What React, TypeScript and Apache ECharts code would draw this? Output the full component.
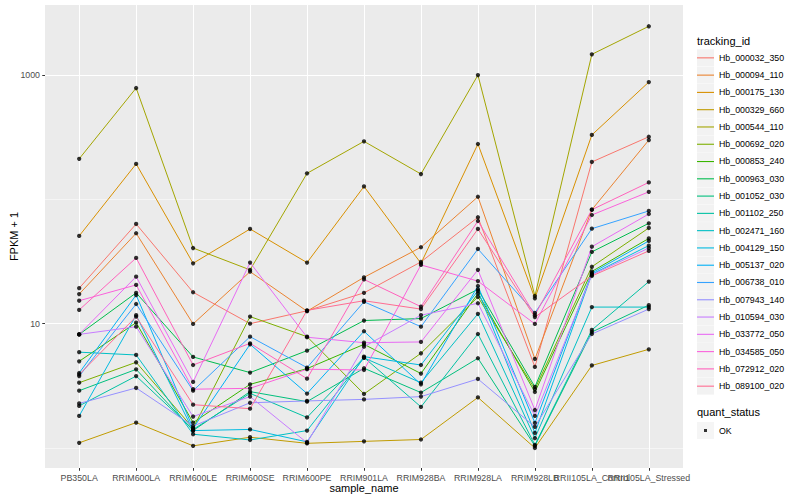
import React, { useEffect, useRef } from 'react';
import * as echarts from 'echarts';

const categories = ['PB350LA', 'RRIM600LA', 'RRIM600LE', 'RRIM600SE', 'RRIM600PE', 'RRIM901LA', 'RRIM928BA', 'RRIM928LA', 'RRIM928LB', 'RRII105LA_Control', 'RRII105LA_Stressed'];

const trackingIds = ['Hb_000032_350', 'Hb_000094_110', 'Hb_000175_130', 'Hb_000329_660', 'Hb_000544_110', 'Hb_000692_020', 'Hb_000853_240', 'Hb_000963_030', 'Hb_001052_030', 'Hb_001102_250', 'Hb_002471_160', 'Hb_004129_150', 'Hb_005137_020', 'Hb_006738_010', 'Hb_007943_140', 'Hb_010594_030', 'Hb_033772_050', 'Hb_034585_050', 'Hb_072912_020', 'Hb_089100_020'];

const colors = ['#F8766D', '#EA8331', '#D89000', '#C09B00', '#A3A500', '#7CAE00', '#39B600', '#00BB4E', '#00BF7D', '#00C1A3', '#00BFC4', '#00BAE0', '#00B0F6', '#35A2FF', '#9590FF', '#C77CFF', '#E76BF3', '#FA62DB', '#FF62BC', '#FF6C91'];

const yTickValues = [10, 1000];
const yMinorValues = [1, 100];
const quantStatus = ['OK'];

// FPKM + 1, one value per sample (order of categories)
const hb000032_350 = [19.3, 63.4, 17.9, 10.0, 12.7, 17.7, 31.4, 71.8, 4.49, 200, 319];
const hb000094_110 = [17.3, 53.4, 9.95, 26.2, 12.6, 23.6, 41.2, 105, 5.2, 82.6, 300];
const hb000175_130 = [50.8, 193, 30.6, 57.8, 31.0, 127, 30.6, 279, 16.0, 330, 879];
const hb000329_660 = [1.10, 1.60, 1.04, 1.22, 1.09, 1.13, 1.17, 2.55, 1.0, 4.61, 6.22];
const hb000544_110 = [212, 787, 40.6, 27.1, 162, 293, 160, 1000, 16.7, 1469, 2470];
const hb000692_020 = [3.35, 4.89, 1.44, 11.4, 7.86, 2.72, 5.78, 16.4, 2.98, 28.7, 58.9];
const hb000853_240 = [4.98, 10.2, 1.60, 3.25, 4.35, 6.82, 3.97, 17.5, 2.82, 26.3, 48.5];
const hb000963_030 = [8.2, 17.7, 5.4, 4.04, 6.07, 10.6, 11.0, 18.9, 3.10, 37.8, 64.2];
const hb001052_030 = [2.89, 4.29, 1.38, 2.84, 2.36, 4.38, 2.79, 5.27, 1.04, 8.57, 14.1];
const hb001102_250 = [2.18, 3.79, 1.41, 2.75, 1.76, 5.35, 2.14, 8.26, 1.06, 8.9, 21.8];
const hb002471_160 = [5.9, 5.6, 1.29, 1.16, 1.38, 5.3, 3.35, 12.0, 1.20, 13.6, 13.6];
const hb004129_150 = [1.81, 11.7, 1.38, 1.41, 1.12, 5.43, 4.65, 18.4, 1.32, 25.0, 42.5];
const hb005137_020 = [4.01, 17.0, 1.44, 6.82, 2.74, 8.69, 3.25, 20.1, 1.59, 25.6, 46.3];
const hb006738_010 = [3.79, 14.4, 2.89, 7.86, 4.43, 15.0, 9.46, 39.9, 12.2, 58.1, 80.7];
const hb007943_140 = [2.28, 3.04, 1.50, 2.31, 2.39, 2.46, 2.59, 3.59, 1.48, 8.26, 13.1];
const hb010594_030 = [8.2, 9.46, 1.79, 2.59, 1.10, 6.53, 11.7, 14.6, 1.81, 24.7, 40.6];
const hb033772_050 = [8.2, 23.9, 3.4, 31.0, 7.78, 7.03, 7.13, 27.1, 2.02, 41.6, 76.3];
const hb034585_050 = [15.3, 20.5, 2.97, 3.02, 4.30, 4.24, 29.7, 22.0, 9.95, 74.9, 115];
const hb072912_020 = [12.9, 33.8, 4.65, 6.95, 3.61, 22.7, 13.7, 67.0, 11.7, 82.6, 137];
const hb089100_020 = [3.9, 11.4, 2.23, 2.07, 12.8, 15.3, 13.1, 57.8, 11.3, 24.2, 38.5];

const seriesValues = [hb000032_350, hb000094_110, hb000175_130, hb000329_660, hb000544_110, hb000692_020, hb000853_240, hb000963_030, hb001052_030, hb001102_250, hb002471_160, hb004129_150, hb005137_020, hb006738_010, hb007943_140, hb010594_030, hb033772_050, hb034585_050, hb072912_020, hb089100_020];

export default function App() {
  const ref = useRef<HTMLDivElement>(null);
  useEffect(() => {
    const chart = echarts.init(ref.current as HTMLDivElement, null, { renderer: 'svg' });
    const font = '"Liberation Sans", Arial, Helvetica, sans-serif';
    const catIdx = categories.map((_, i) => i);
    // the two right-most labels overlap in the reference: draw them on two axes so neither is hidden
    const mainIdx = catIdx.filter((i) => i !== categories.length - 2);
    const extraIdx = [categories.length - 2];
    const lineSeries = trackingIds.map((name, k) => ({
      type: 'line',
      name,
      data: seriesValues[k].map((v, i) => [i, v]),
      showSymbol: false,
      symbol: 'none',
      lineStyle: { width: 1, color: colors[k] },
      itemStyle: { color: colors[k] },
      silent: true,
      z: 2,
    }));
    const points: number[][] = [];
    seriesValues.forEach((arr) => arr.forEach((v, i) => points.push([i, v])));
    const barIcon = 'path://M0,0 L0,0 M0,8 L17,8 L17,9.1 L0,9.1 Z M17,17 L17,17';
    const dotIcon = 'path://M0,0 L0,0 M7,7 L10,7 L10,10 L7,10 Z M17,17 L17,17';
    const legendBase = {
      orient: 'vertical',
      left: 697,
      itemWidth: 17,
      itemHeight: 17,
      itemGap: 0.28,
      padding: 0,
      selectedMode: false,
      textStyle: { fontSize: 8.8, fontFamily: font, color: '#000' },
    };
    const yBase = {
      type: 'log',
      logBase: 10,
      min: 0.69,
      max: 3664,
      axisLine: { show: false, onZero: false },
    };
    const xLabelBase = {
      formatter: (v: number) => categories[Math.round(v)] ?? '',
      fontSize: 8.8,
      color: '#4D4D4D',
      margin: 5,
      fontFamily: font,
      showMinLabel: true,
      showMaxLabel: true,
      hideOverlap: false,
    };
    chart.setOption({
      animation: false,
      backgroundColor: '#fff',
      textStyle: { fontFamily: font },
      grid: { left: 45, right: 117, top: 5, bottom: 32, show: true, backgroundColor: '#EBEBEB', borderWidth: 0, containLabel: false, outerBoundsMode: 'none' },
      xAxis: [
        {
          type: 'value',
          min: -0.6,
          max: 10.6,
          position: 'bottom',
          name: 'sample_name',
          nameLocation: 'middle',
          nameGap: 14,
          nameMoveOverlap: false,
          nameTextStyle: { fontSize: 11, color: '#000', fontFamily: font },
          axisLine: { show: false, onZero: false },
          axisTick: { show: true, length: 2.75, customValues: catIdx, lineStyle: { color: '#333', width: 1 } },
          axisLabel: { ...xLabelBase, customValues: mainIdx },
          splitLine: { show: true, lineStyle: { color: '#fff', width: 1.07 } },
        },
        {
          type: 'value',
          min: -0.6,
          max: 10.6,
          position: 'bottom',
          axisLine: { show: false, onZero: false },
          axisTick: { show: false, customValues: extraIdx },
          axisLabel: { ...xLabelBase, customValues: extraIdx },
          splitLine: { show: false },
        },
      ],
      yAxis: [
        {
          ...yBase,
          name: 'FPKM + 1',
          nameLocation: 'middle',
          nameRotate: 90,
          nameGap: 26,
          nameMoveOverlap: false,
          nameTextStyle: { fontSize: 11, color: '#000', fontFamily: font },
          axisTick: { show: true, length: 2.75, customValues: yTickValues, lineStyle: { color: '#333', width: 1 } },
          axisLabel: {
            customValues: yTickValues,
            formatter: (v: number) => String(Math.round(v)),
            fontSize: 8.8,
            color: '#4D4D4D',
            margin: 5,
            fontFamily: font,
            showMinLabel: true,
            showMaxLabel: true,
          },
          splitLine: { show: true, lineStyle: { color: '#fff', width: 1.07 } },
        },
        {
          ...yBase,
          position: 'left',
          axisTick: { show: false, customValues: yMinorValues },
          axisLabel: { show: false, customValues: yMinorValues },
          splitLine: { show: true, lineStyle: { color: '#fff', width: 0.53 } },
        },
      ],
      legend: [
        { ...legendBase, top: 49.3, data: trackingIds.map((n) => ({ name: n, icon: 'rect' })), itemStyle: { color: '#F2F2F2', borderWidth: 0 }, textStyle: { ...legendBase.textStyle, color: 'rgba(0,0,0,0)' } },
        { ...legendBase, top: 49.3, data: trackingIds.map((n) => ({ name: n, icon: barIcon })), itemStyle: { borderWidth: 0 } },
        { ...legendBase, top: 422, data: quantStatus.map((n) => ({ name: n, icon: 'rect' })), itemStyle: { color: '#F2F2F2', borderWidth: 0 }, textStyle: { ...legendBase.textStyle, color: 'rgba(0,0,0,0)' } },
        { ...legendBase, top: 422, data: quantStatus.map((n) => ({ name: n, icon: dotIcon })), itemStyle: { borderWidth: 0 } },
      ],
      graphic: [
        { type: 'text', x: 697, y: 40.5, style: { text: 'tracking_id', fontSize: 11, fill: '#000', fontFamily: font, verticalAlign: 'middle' } },
        { type: 'text', x: 697, y: 412, style: { text: 'quant_status', fontSize: 11, fill: '#000', fontFamily: font, verticalAlign: 'middle' } },
      ],
      series: [
        ...lineSeries,
        {
          type: 'scatter',
          name: quantStatus[0],
          data: points,
          symbol: 'circle',
          symbolSize: 4.3,
          itemStyle: { color: '#000' },
          silent: true,
          z: 3,
        },
      ],
    });
    return () => chart.dispose();
  }, []);
  return <div ref={ref} style={{ position: 'fixed', left: 0, top: 0, width: 800, height: 500 }} />;
}
